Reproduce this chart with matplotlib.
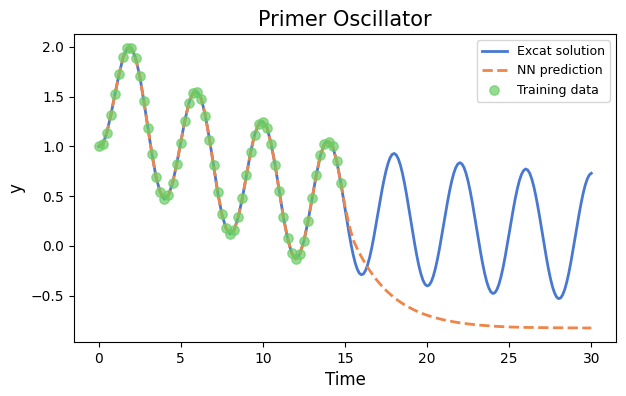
import numpy as np
import matplotlib
matplotlib.use("Agg")
import matplotlib.pyplot as plt

# Training window: t = 0 .. 14.75 every 0.25
time_early = np.linspace(0, 14.75, 60)
# After the training window the exact curve is read every 0.125
time_late = np.linspace(15, 30, 121)
# NN prediction after the window, read every 0.25
time_nn_tail = np.linspace(15, 30, 61)

# Exact solution (also the training data) for t = 0 .. 14.75
exact_early = [
    1.00, 1.02, 1.14, 1.32, 1.53, 1.73, 1.90, 1.99, 1.99, 1.89, 1.71, 1.46, 1.19, 0.92, 0.69, 0.54,
    0.47, 0.51, 0.63, 0.82, 1.04, 1.26, 1.44, 1.54, 1.55, 1.48, 1.31, 1.07, 0.81, 0.54, 0.32, 0.18,
    0.12, 0.16, 0.29, 0.48, 0.71, 0.94, 1.12, 1.23, 1.25, 1.19, 1.03, 0.81, 0.55, 0.29, 0.08, -0.07,
    -0.13, -0.08, 0.05, 0.25, 0.48, 0.71, 0.91, 1.03, 1.05, 1.00, 0.85, 0.63,
]

# Exact solution for t = 15 .. 30
exact_late = [
    0.379, 0.250, 0.126, 0.011, -0.089, -0.172, -0.234, -0.274,
    -0.289, -0.280, -0.247, -0.191, -0.115, -0.022, 0.085, 0.201,
    0.322, 0.442, 0.558, 0.664, 0.757, 0.833, 0.888, 0.921,
    0.930, 0.914, 0.874, 0.812, 0.729, 0.629, 0.516, 0.393,
    0.265, 0.137, 0.014, -0.099, -0.200, -0.282, -0.345, -0.385,
    -0.401, -0.393, -0.360, -0.305, -0.229, -0.136, -0.029, 0.088,
    0.210, 0.332, 0.450, 0.558, 0.653, 0.732, 0.790, 0.825,
    0.837, 0.824, 0.787, 0.728, 0.648, 0.550, 0.439, 0.318,
    0.191, 0.064, -0.058, -0.172, -0.272, -0.356, -0.419, -0.460,
    -0.477, -0.470, -0.438, -0.384, -0.309, -0.216, -0.109, 0.008,
    0.131, 0.254, 0.373, 0.483, 0.580, 0.661, 0.721, 0.759,
    0.774, 0.764, 0.730, 0.673, 0.595, 0.499, 0.389, 0.270,
    0.144, 0.018, -0.105, -0.219, -0.320, -0.404, -0.468, -0.511,
    -0.529, -0.523, -0.492, -0.439, -0.365, -0.273, -0.166, -0.049,
    0.074, 0.197, 0.317, 0.429, 0.528, 0.611, 0.673, 0.714,
    0.731,
]

# NN prediction for t = 15 .. 30 (it follows the exact curve before that)
nn_tail = [
    0.400, 0.210, 0.060, -0.029, -0.109, -0.181, -0.245, -0.304, -0.356, -0.403,
    -0.446, -0.484, -0.519, -0.550, -0.578, -0.603, -0.625, -0.646, -0.664, -0.681,
    -0.696, -0.709, -0.721, -0.732, -0.742, -0.751, -0.758, -0.766, -0.772, -0.778,
    -0.783, -0.788, -0.792, -0.796, -0.799, -0.802, -0.805, -0.808, -0.810, -0.812,
    -0.814, -0.815, -0.816, -0.817, -0.818, -0.819, -0.819, -0.820, -0.820, -0.821,
    -0.821, -0.822, -0.822, -0.822, -0.823, -0.823, -0.823, -0.823, -0.824, -0.824,
    -0.824,
]

exact_t = np.concatenate([time_early, time_late])
exact_y = exact_early + exact_late
nn_t = np.concatenate([time_early, time_nn_tail])
nn_y = exact_early + nn_tail

fig = plt.figure(figsize=(6.26, 3.96), dpi=100)
ax = fig.add_axes([0.1182, 0.1364, 0.8658, 0.7778])

ax.plot(exact_t, exact_y, color="#4878d0", lw=2, solid_joinstyle="round", label="Excat solution")
ax.plot(nn_t, nn_y, color="#ee854a", lw=2, ls="--", label="NN prediction")
ax.scatter(time_early, exact_early, color="#6acc64", s=45, alpha=0.7, label="Training data", zorder=3)

ax.set_title("Primer Oscillator", fontsize=15)
ax.set_xlabel("Time", fontsize=12)
ax.set_ylabel("y", fontsize=12)
ax.legend(fontsize=9, loc="upper right")

fig.savefig("out.png", dpi=100)
